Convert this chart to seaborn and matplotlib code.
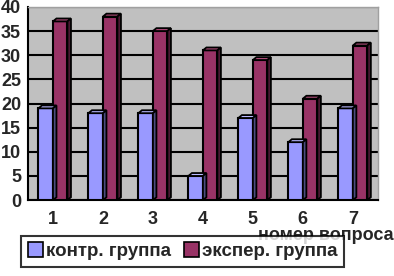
import numpy as np
import matplotlib
matplotlib.use('Agg')
import matplotlib.pyplot as plt
import pandas as pd
import seaborn as sns
from matplotlib.patches import Polygon

# dane z wykresu
questions = ['1', '2', '3', '4', '5', '6', '7']
control = [19, 18, 18, 5, 17, 12, 19]
experiment = [37, 38, 35, 31, 29, 21, 32]
series_names = ['контр. группа', 'экспер. группа']
colors = ['#9999FF', '#993366']
side_colors = ['#4C4C80', '#4C1933']
top_colors = ['#B8B8FF', '#B04D7A']

df = pd.DataFrame({
    'question': questions * 2,
    'value': control + experiment,
    'group': [series_names[0]] * len(questions) + [series_names[1]] * len(questions),
})

sns.set_style('white')
plt.rcParams['font.family'] = ['Liberation Sans', 'DejaVu Sans']
plt.rcParams['font.weight'] = 'bold'

fig = plt.figure(figsize=(3.94, 2.76), dpi=100)
ax = fig.add_axes([0.071, 0.275, 0.888, 0.70])
ax.set_facecolor('#C0C0C0')

sns.barplot(data=df, x='question', y='value', hue='group', palette=colors,
            width=0.58, edgecolor='black', linewidth=1.5, saturation=1,
            legend=False, ax=ax, zorder=3)

# efekt 3D: gorna i boczna sciana
dx, dy = 0.07, 0.6
n = len(questions)
for i, bar in enumerate(ax.patches[:2 * n]):
    k = i // n
    x0 = bar.get_x()
    w = bar.get_width()
    h = bar.get_height()
    top = Polygon([[x0, h], [x0 + dx, h + dy], [x0 + w + dx, h + dy], [x0 + w, h]],
                  closed=True, facecolor=top_colors[k], edgecolor='black', lw=1.3, zorder=4)
    side = Polygon([[x0 + w, 0], [x0 + w + dx, dy], [x0 + w + dx, h + dy], [x0 + w, h]],
                   closed=True, facecolor=side_colors[k], edgecolor='black', lw=1.3, zorder=4)
    ax.add_patch(top)
    ax.add_patch(side)

ax.set_xlim(-0.5, n - 0.5)
ax.set_ylim(0, 40)
ax.set_yticks(range(0, 41, 5))
ax.yaxis.grid(True, color='black', linewidth=1.5, zorder=0)
ax.set_axisbelow(True)

ax.set_xticks(np.arange(-0.5, n, 1.0))
ax.set_xticklabels([])
ax.set_xticks(range(n), minor=True)
ax.set_xticklabels(questions, minor=True)
ax.tick_params(axis='x', which='major', length=4, width=1.5, color='black', direction='out')
ax.tick_params(axis='x', which='minor', length=0, pad=8, labelsize=13)
ax.tick_params(axis='y', length=4, width=1.5, color='black', direction='out', pad=1, labelsize=13)
for lab in ax.get_xticklabels(minor=True) + ax.get_yticklabels():
    lab.set_fontweight('bold')

ax.set_xlabel('')
ax.set_ylabel('')
for s in ['left', 'bottom']:
    ax.spines[s].set_color('black')
    ax.spines[s].set_linewidth(1.5)
for s in ['top', 'right']:
    ax.spines[s].set_color('#A0A0A0')
    ax.spines[s].set_linewidth(1.0)

fig.text(1.0, 0.145, 'номер вопроса', ha='right', va='center', fontsize=13, fontweight='bold')

handles = [plt.Rectangle((0, 0), 1, 1, facecolor=c, edgecolor='black', lw=1.2) for c in colors]
leg = fig.legend(handles, series_names, loc='lower left', bbox_to_anchor=(0.045, 0.02),
                 ncol=2, frameon=True, fancybox=False, handlelength=0.8,
                 handleheight=0.8, handletextpad=0.15, columnspacing=0.7, borderpad=0.35,
                 borderaxespad=0.2, prop={'weight': 'bold', 'size': 13.5})
leg.get_frame().set_edgecolor('black')
leg.get_frame().set_linewidth(1.5)

fig.savefig('out.png', dpi=100)
